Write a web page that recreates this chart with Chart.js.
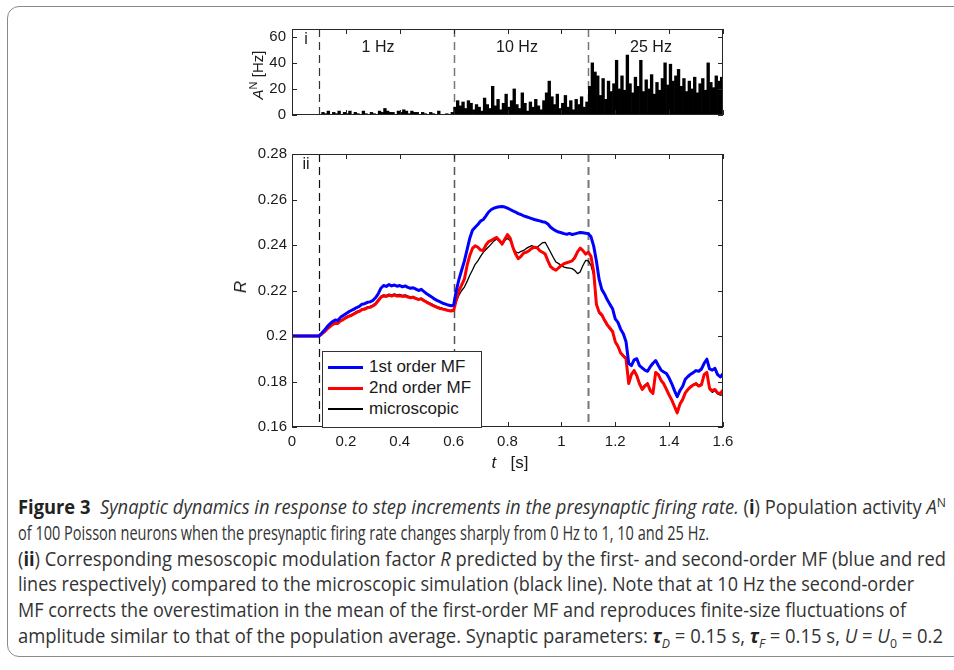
<!DOCTYPE html>
<html>
<head>
<meta charset="utf-8">
<script src="https://cdn.jsdelivr.net/npm/chart.js@4.4.1/dist/chart.umd.min.js"></script>
<style>
  body { margin: 0; width: 954px; height: 670px; background: #fff; position: relative; overflow: hidden;
         font-family: "Liberation Sans", Arial, sans-serif; color: #1a1a1a; }
  .frame { position: absolute; left: 7px; top: 6px; width: 1000px; height: 649px;
           border: 1.5px solid #8a8a8a; border-radius: 12px; }
  canvas { position: absolute; }
  .lbl { position: absolute; font-size: 16px; white-space: nowrap; transform: translate(-50%, -50%); }
  .ylab { position: absolute; font-size: 15px; white-space: nowrap; transform: translate(-50%, -50%) rotate(-90deg); }
  #legend { position: absolute; left: 322px; top: 351px; width: 158px; height: 75px; background: #fff;
            border: 1px solid #333; font-size: 17px; }
  #legend .row { position: absolute; left: 0; height: 20px; width: 100%; }
  #legend .sw { position: absolute; left: 5px; width: 35px; }
  #legend .tx { position: absolute; left: 46px; top: 0; line-height: 20px; }
  #caption { position: absolute; left: 18px; top: 494px; font-family: "Open Sans", "Noto Sans", sans-serif;
             font-size: 19.5px; color: #333; }
  #caption .ln { white-space: nowrap; height: 25.8px; line-height: 25.8px; transform-origin: left center; }
  #caption b { color: #222; }
  #caption sup, #caption sub { font-size: 13px; line-height: 0; }
</style>
</head>
<body>
<div class="frame"></div>
<canvas id="activityChart" width="510" height="116" style="left:230px; top:14px;"></canvas>
<canvas id="rChart" width="520" height="340" style="left:220px; top:140px;"></canvas>

<div class="ylab" style="left:256px; top:75px;"><i>A</i><sup style="font-size:11px">N</sup> [Hz]</div>
<div class="lbl" style="left:306px; top:39px;">i</div>
<div class="lbl" style="left:378px; top:47px;">1 Hz</div>
<div class="lbl" style="left:517px; top:47px;">10 Hz</div>
<div class="lbl" style="left:651px; top:47px;">25 Hz</div>

<div class="lbl" style="left:306px; top:164px;">ii</div>
<div class="ylab" style="left:241px; top:287px; font-size:17px;"><i>R</i></div>
<div class="lbl" style="left:510px; top:463px; font-size:17px;"><i>t</i>&nbsp;&nbsp;&nbsp;[s]</div>
<div id="legend"></div>

<div id="caption">
  <div class="ln"><b>Figure 3</b>&nbsp; <i>Synaptic dynamics in response to step increments in the presynaptic firing rate.</i> (<b>i</b>) Population activity <i>A</i><sup>N</sup></div>
  <div class="ln">of 100 Poisson neurons when the presynaptic firing rate changes sharply from 0 Hz to 1, 10 and 25 Hz.</div>
  <div class="ln">(<b>ii</b>) Corresponding mesoscopic modulation factor <i>R</i> predicted by the first- and second-order MF (blue and red</div>
  <div class="ln">lines respectively) compared to the microscopic simulation (black line). Note that at 10 Hz the second-order</div>
  <div class="ln">MF corrects the overestimation in the mean of the first-order MF and reproduces finite-size fluctuations of</div>
  <div class="ln">amplitude similar to that of the population average. Synaptic parameters: <b><i>τ</i></b><sub><i>D</i></sub> = 0.15 s, <b><i>τ</i></b><sub><i>F</i></sub> = 0.15 s, <i>U</i> = <i>U</i><sub>0</sub> = 0.2</div>
</div>

<script>
// Time axis / tick labels
const xTicks = [0, 0.2, 0.4, 0.6, 0.8, 1, 1.2, 1.4, 1.6];
const activityTicks = [0, 20, 40, 60];
const rTicks = [0.16, 0.18, 0.2, 0.22, 0.24, 0.26, 0.28];
const rateSteps = [0.1, 0.6, 1.1]; // firing rate switches to 1, 10, 25 Hz

// Population activity A^N [Hz], 10 ms bins from 0 to 1.6 s
const activity = [
  0, 0, 0, 0, 0, 0, 0, 0, 0, 0,
  // 1 Hz
  0, 2, 1, 3, 0, 2, 1, 3, 0, 2,
  1, 3, 0, 2, 1, 0, 3, 1, 0, 2,
  1, 0, 3, 2, 5, 3, 2, 2, 0, 3,
  2, 4, 3, 1, 3, 2, 2, 0, 2, 1,
  0, 2, 1, 0, 3, 0, 0, 1, 0, 2,
  // 10 Hz
  6, 11, 7, 10, 5, 11, 9, 4, 8, 6,
  3, 13, 8, 5, 22, 7, 12, 4, 9, 16,
  6, 11, 20, 8, 5, 17, 9, 3, 10, 6,
  12, 7, 4, 11, 17, 26, 14, 8, 16, 5,
  9, 15, 6, 11, 4, 12, 8, 14, 6, 10,
  // 25 Hz
  22, 40, 33, 30, 15, 28, 12, 26, 18, 24,
  42, 20, 30, 19, 46, 24, 17, 29, 22, 42,
  18, 27, 20, 31, 16, 25, 19, 28, 40, 23,
  39, 26, 30, 35, 22, 28, 18, 26, 20, 29,
  17, 24, 28, 19, 40, 25, 21, 30, 26, 29
];

// Modulation factor R, sampled every 10 ms from 0 to 1.6 s
const firstOrderMF = [
  0.2, 0.2, 0.2, 0.2, 0.2, 0.2, 0.2, 0.2, 0.2, 0.2, 0.2,
  0.2012, 0.2025, 0.2040, 0.2052, 0.2063, 0.2070, 0.2068, 0.2082, 0.2090, 0.2098,
  0.2106, 0.2112, 0.2118, 0.2125, 0.2130, 0.2140, 0.2142, 0.2148, 0.2150, 0.2156,
  0.2168, 0.2185, 0.2210, 0.2222, 0.2218, 0.2226, 0.2220, 0.2224, 0.2219, 0.2222,
  0.2216, 0.2220, 0.2214, 0.2210, 0.2212, 0.2206, 0.2200, 0.2205, 0.2195, 0.2186,
  0.2178, 0.2170, 0.2162, 0.2155, 0.2150, 0.2144, 0.2140, 0.2136, 0.2133, 0.2135,
  0.2200, 0.2250, 0.2290, 0.2330, 0.2380, 0.2430, 0.2465, 0.2478, 0.2490, 0.2505,
  0.2512, 0.2528, 0.2545, 0.2556, 0.2562, 0.2566, 0.2568, 0.2569, 0.2567, 0.2562,
  0.2556, 0.2550, 0.2545, 0.2538, 0.2534, 0.2528, 0.2524, 0.2520, 0.2516, 0.2512,
  0.2509, 0.2506, 0.2502, 0.2500, 0.2492, 0.2478, 0.2469, 0.2462, 0.2457, 0.2454,
  0.2450, 0.2447, 0.2451, 0.2446, 0.2449, 0.2452, 0.2455, 0.2454, 0.2452, 0.2450,
  0.2436, 0.2395, 0.2330, 0.2250, 0.2205, 0.2185, 0.2160, 0.2140, 0.2120, 0.2075,
  0.2060, 0.2030, 0.2010, 0.1975, 0.1880, 0.1870, 0.1895, 0.1900, 0.1870, 0.1860,
  0.1850, 0.1845, 0.1865, 0.1880, 0.1892, 0.1870, 0.1850, 0.1842, 0.1835, 0.1815,
  0.1790, 0.1760, 0.1733, 0.1760, 0.1778, 0.1810, 0.1822, 0.1832, 0.1840, 0.1848,
  0.1845, 0.1855, 0.1880, 0.1898, 0.1855, 0.1850, 0.1858, 0.1830, 0.1820, 0.1834
];

const secondOrderMF = [
  0.2, 0.2, 0.2, 0.2, 0.2, 0.2, 0.2, 0.2, 0.2, 0.2, 0.2,
  0.2008, 0.2018, 0.2030, 0.2040, 0.2050, 0.2056, 0.2055, 0.2066, 0.2072, 0.2080,
  0.2086, 0.2090, 0.2097, 0.2104, 0.2108, 0.2116, 0.2118, 0.2124, 0.2126, 0.2132,
  0.2140, 0.2155, 0.2170, 0.2176, 0.2174, 0.2179, 0.2176, 0.2180, 0.2176, 0.2177,
  0.2174, 0.2176, 0.2171, 0.2168, 0.2170, 0.2164, 0.2160, 0.2163, 0.2155, 0.2148,
  0.2142, 0.2136, 0.2130, 0.2125, 0.2121, 0.2118, 0.2115, 0.2112, 0.2110, 0.2112,
  0.2160, 0.2200, 0.2225, 0.2250, 0.2310, 0.2354, 0.2385, 0.2397, 0.2390, 0.2378,
  0.2376, 0.2400, 0.2415, 0.2420, 0.2428, 0.2433, 0.2420, 0.2405, 0.2425, 0.2446,
  0.2430, 0.2390, 0.2360, 0.2340, 0.2350, 0.2365, 0.2368, 0.2375, 0.2385, 0.2390,
  0.2388, 0.2375, 0.2368, 0.2360, 0.2330, 0.2305, 0.2295, 0.2289, 0.2300, 0.2310,
  0.2318, 0.2322, 0.2326, 0.2330, 0.2345, 0.2370, 0.2386, 0.2375, 0.2360, 0.2368,
  0.2350, 0.2282, 0.2140, 0.2105, 0.2094, 0.2070, 0.2050, 0.2035, 0.2020, 0.1975,
  0.1955, 0.1925, 0.1912, 0.1900, 0.1791, 0.1830, 0.1848, 0.1825, 0.1790, 0.1765,
  0.1780, 0.1790, 0.1760, 0.1748, 0.1840, 0.1830, 0.1805, 0.1790, 0.1765, 0.1740,
  0.1718, 0.1690, 0.1662, 0.1700, 0.1720, 0.1750, 0.1765, 0.1776, 0.1785, 0.1790,
  0.1780, 0.1785, 0.1830, 0.1840, 0.1770, 0.1760, 0.1765, 0.1750, 0.1747, 0.1762
];

const microscopic = [
  0.2, 0.2, 0.2, 0.2, 0.2, 0.2, 0.2, 0.2, 0.2, 0.2, 0.2,
  0.2010, 0.2020, 0.2033, 0.2043, 0.2053, 0.2060, 0.2058, 0.2070, 0.2076, 0.2084,
  0.2090, 0.2094, 0.2101, 0.2108, 0.2112, 0.2120, 0.2122, 0.2128, 0.2130, 0.2136,
  0.2145, 0.2160, 0.2175, 0.2181, 0.2179, 0.2184, 0.2181, 0.2185, 0.2181, 0.2183,
  0.2179, 0.2181, 0.2176, 0.2172, 0.2174, 0.2168, 0.2164, 0.2167, 0.2159, 0.2152,
  0.2146, 0.2140, 0.2134, 0.2129, 0.2125, 0.2121, 0.2118, 0.2115, 0.2113, 0.2116,
  0.2150, 0.2180, 0.2200, 0.2215, 0.2240, 0.2267, 0.2290, 0.2315, 0.2330, 0.2350,
  0.2368, 0.2380, 0.2392, 0.2405, 0.2418, 0.2426, 0.2415, 0.2400, 0.2420, 0.2430,
  0.2419, 0.2390, 0.2370, 0.2365, 0.2372, 0.2376, 0.2385, 0.2392, 0.2397, 0.2392,
  0.2390, 0.2400, 0.2410, 0.2412, 0.2390, 0.2368, 0.2345, 0.2325, 0.2318, 0.2310,
  0.2303, 0.2300, 0.2298, 0.2296, 0.2288, 0.2274, 0.2282, 0.2310, 0.2332, 0.2330,
  0.2310, 0.2267, 0.2140, 0.2100, 0.2088, 0.2065, 0.2046, 0.2030, 0.2016, 0.1972,
  0.1952, 0.1928, 0.1915, 0.1905, 0.1800, 0.1835, 0.1850, 0.1830, 0.1795, 0.1772,
  0.1785, 0.1795, 0.1765, 0.1755, 0.1842, 0.1832, 0.1808, 0.1792, 0.1770, 0.1745,
  0.1722, 0.1695, 0.1668, 0.1705, 0.1725, 0.1752, 0.1768, 0.1780, 0.1788, 0.1794,
  0.1784, 0.1790, 0.1832, 0.1842, 0.1765, 0.1752, 0.1760, 0.1745, 0.1740, 0.1740
];

const binWidth = 0.01;
const sampleStep = 0.01;

Chart.defaults.font.family = '"Liberation Sans", Arial, sans-serif';
Chart.defaults.font.size = 15;
Chart.defaults.color = "#1a1a1a";
Chart.defaults.animation = false;

/**
 * MATLAB-like axes box: dashed step markers under the data,
 * frame and inward ticks on all four sides on top.
 */
const boxAxes = {
  id: "boxAxes",
  beforeDatasetsDraw(chart, args, opts) {
    const { ctx, chartArea: a, scales } = chart;
    ctx.save();
    ctx.setLineDash([8, 5]);
    rateSteps.forEach(function (t, i) {
      const px = Math.round(scales.x.getPixelForValue(t)) + 0.5;
      ctx.strokeStyle = opts.markerColors[i];
      ctx.lineWidth = opts.markerWidths[i];
      ctx.beginPath();
      ctx.moveTo(px, a.top);
      ctx.lineTo(px, a.bottom);
      ctx.stroke();
    });
    ctx.restore();
  },
  afterDraw(chart) {
    const { ctx, chartArea: a, scales } = chart;
    const len = 5;
    ctx.save();
    ctx.strokeStyle = "#262626";
    ctx.lineWidth = 1;
    ctx.strokeRect(a.left + 0.5, a.top + 0.5, a.right - a.left - 1, a.bottom - a.top - 1);
    ctx.beginPath();
    scales.x.ticks.forEach(function (t) {
      const px = Math.round(scales.x.getPixelForValue(t.value)) + 0.5;
      ctx.moveTo(px, a.bottom);
      ctx.lineTo(px, a.bottom - len);
      ctx.moveTo(px, a.top);
      ctx.lineTo(px, a.top + len);
    });
    scales.y.ticks.forEach(function (t) {
      const py = Math.round(scales.y.getPixelForValue(t.value)) + 0.5;
      ctx.moveTo(a.left, py);
      ctx.lineTo(a.left + len, py);
      ctx.moveTo(a.right, py);
      ctx.lineTo(a.right - len, py);
    });
    ctx.stroke();
    ctx.restore();
  },
};

function fmt(v) {
  return String(+v.toFixed(2));
}

/**
 * Panel i: population activity histogram
 */
new Chart(document.getElementById("activityChart"), {
  type: "bar",
  data: {
    datasets: [
      {
        data: activity.map(function (v, i) {
          return { x: i * binWidth + binWidth / 2, y: v };
        }),
        backgroundColor: "#000",
        borderWidth: 0,
        barPercentage: 1,
        categoryPercentage: 1,
        grouped: false,
      },
    ],
  },
  options: {
    responsive: false,
    layout: { padding: { left: 0, right: 17, top: 10, bottom: 0 } },
    plugins: {
      legend: { display: false },
      tooltip: { enabled: false },
      boxAxes: { markerColors: ["#333", "#777", "#777"], markerWidths: [1.2, 1.5, 1.5] },
    },
    scales: {
      x: {
        type: "linear",
        min: 0,
        max: 1.6,
        offset: false,
        grid: { display: false, drawTicks: false },
        border: { display: false },
        ticks: { display: false },
        afterBuildTicks: function (s) { s.ticks = xTicks.map(function (v) { return { value: v }; }); },
        afterFit: function (s) { s.height = 5; },
      },
      y: {
        min: 0,
        max: 66,
        grid: { display: false, drawTicks: false },
        border: { display: false },
        ticks: { padding: 6 },
        afterBuildTicks: function (s) { s.ticks = activityTicks.map(function (v) { return { value: v }; }); },
        afterFit: function (s) { s.width = 62; },
      },
    },
  },
  plugins: [boxAxes],
});

/**
 * Panel ii: modulation factor R
 */
const times = firstOrderMF.map(function (_, i) { return +(i * sampleStep).toFixed(2); });

function series(values) {
  return values.map(function (v, i) { return { x: times[i], y: v }; });
}

const rChart = new Chart(document.getElementById("rChart"), {
  type: "line",
  data: {
    datasets: [
      { label: "1st order MF", data: series(firstOrderMF), borderColor: "#0000ff", borderWidth: 3 },
      { label: "2nd order MF", data: series(secondOrderMF), borderColor: "#ff0000", borderWidth: 3 },
      { label: "microscopic", data: series(microscopic), borderColor: "#000000", borderWidth: 1.3 },
    ],
  },
  options: {
    responsive: false,
    elements: { point: { radius: 0 }, line: { tension: 0, borderJoinStyle: "round" } },
    layout: { padding: { left: 0, right: 17, top: 10, bottom: 0 } },
    plugins: {
      legend: { display: false },
      tooltip: { enabled: false },
      boxAxes: { markerColors: ["#111", "#555", "#777"], markerWidths: [1.2, 1.5, 2] },
    },
    scales: {
      x: {
        type: "linear",
        min: 0,
        max: 1.6,
        grid: { display: false, drawTicks: false },
        border: { display: false },
        ticks: { padding: 6, callback: fmt },
        afterBuildTicks: function (s) { s.ticks = xTicks.map(function (v) { return { value: v }; }); },
        afterFit: function (s) { s.height = 53; },
      },
      y: {
        min: 0.16,
        max: 0.28,
        grid: { display: false, drawTicks: false },
        border: { display: false },
        ticks: { padding: 5, callback: fmt },
        afterBuildTicks: function (s) { s.ticks = rTicks.map(function (v) { return { value: v }; }); },
        afterFit: function (s) { s.width = 72; },
      },
    },
  },
  plugins: [boxAxes],
});

// Legend box inside the axes, built from the datasets
const legendEl = document.getElementById("legend");
rChart.data.datasets.forEach(function (ds, i) {
  const row = document.createElement("div");
  row.className = "row";
  row.style.top = 5 + i * 21 + "px";
  const sw = document.createElement("div");
  sw.className = "sw";
  sw.style.background = ds.borderColor;
  sw.style.height = ds.borderWidth + "px";
  sw.style.top = 10 - ds.borderWidth / 2 + "px";
  const tx = document.createElement("div");
  tx.className = "tx";
  tx.textContent = ds.label;
  row.appendChild(sw);
  row.appendChild(tx);
  legendEl.appendChild(row);
});

// Fit caption lines to the measured widths of the original layout
const lineWidths = [928, 691, 928, 896, 888, 925];
document.querySelectorAll("#caption .ln").forEach(function (ln, i) {
  const range = document.createRange();
  range.selectNodeContents(ln);
  const w = range.getBoundingClientRect().width;
  ln.style.transform = "scaleX(" + (lineWidths[i] / w).toFixed(4) + ")";
});
</script>
</body>
</html>
